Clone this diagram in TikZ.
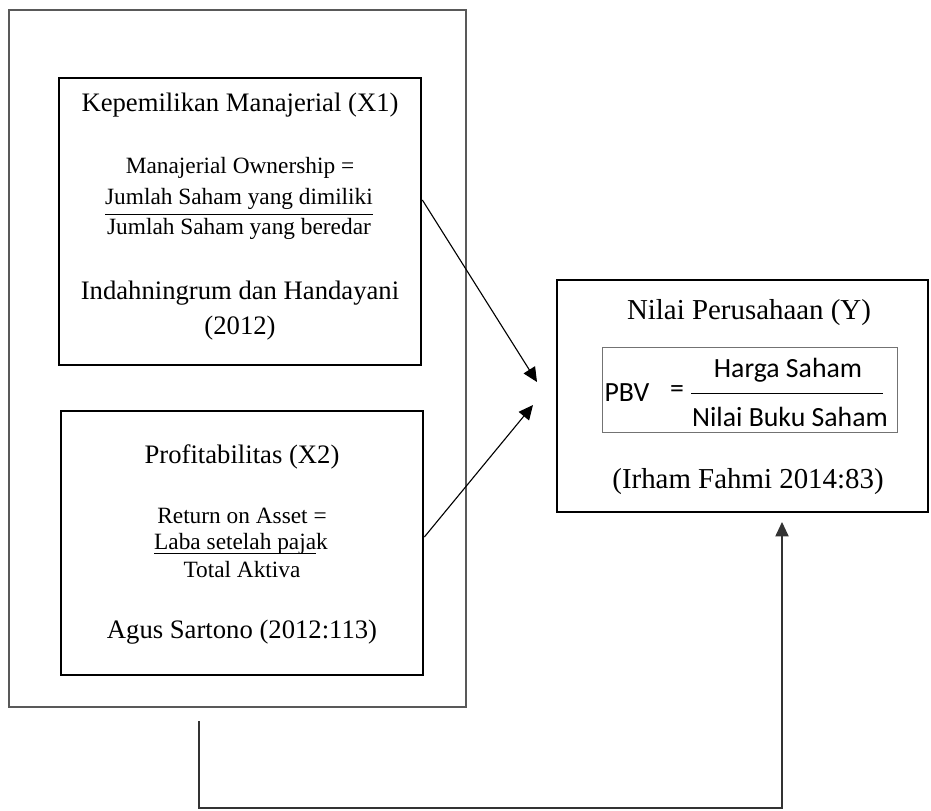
\documentclass[tikz,border=0pt]{standalone}
\usepackage{fontspec}
\setmainfont{Liberation Serif}
\newfontfamily\calfont{Carlito}
\usetikzlibrary{arrows.meta}

\begin{document}
\begin{tikzpicture}[x=0.45pt,y=-0.45pt,line width=0.5pt,>={Triangle[length=6.5pt,width=6pt]},
  box/.style={draw,line width=1.2pt,inner sep=0pt},
  big/.style={font=\fontsize{12}{14}\selectfont},
  small/.style={font=\fontsize{10.5}{13}\selectfont},
  ytxt/.style={font=\fontsize{13}{15}\selectfont},
  cal/.style={font=\calfont\fontsize{12.5}{15}\selectfont}]
  \useasboundingbox (0,0) rectangle (931,810);
  % kotak luar
  \node[draw=black!65,line width=0.7pt,inner sep=0pt,minimum width=205.65pt,minimum height=313.65pt] (outer) at (237.5,358.5) {};
  % X1
  \node[box,minimum width=162.9pt,minimum height=129.15pt] (x1) at (240,221.5) {};
  \node[big] (x1title) at (240,105) {Kepemilikan Manajerial (X1)};
  \node[small] (x1rumus) at (240,168) {Manajerial Ownership =};
  \node[small,inner sep=0pt] (x1frac) at (239,214) {\begin{tabular}{@{}c@{}}Jumlah Saham yang dimiliki\\\hline Jumlah Saham yang beredar\end{tabular}};
  \node[big] (x1src) at (240,293) {Indahningrum dan Handayani};
  \node[big] (x1year) at (240,328) {(2012)};
  % X2
  \node[box,minimum width=162.9pt,minimum height=118.8pt] (x2) at (242,543) {};
  \node[big] (x2title) at (242,457) {Profitabilitas (X2)};
  \node[small] (x2rumus) at (242,516) {Return on Asset =};
  \node[small] (x2num) at (241,544) {\underline{\smash{Laba setelah paja}}k};
  \node[small] (x2den) at (242,570) {Total Aktiva};
  \node[big] (x2src) at (242,632) {Agus Sartono (2012:113)};
  % Y
  \node[box,minimum width=166.95pt,minimum height=104.4pt] (y) at (742.5,396) {};
  \node[ytxt] (ytitle) at (749,313) {Nilai Perusahaan (Y)};
  \node[draw=black!55,line width=0.45pt,inner sep=0pt,minimum width=132.75pt,minimum height=38.25pt] (pbv) at (749.5,389.5) {};
  \node[cal] (pbvlbl) at (627,393) {PBV};
  \node[cal] (pbveq) at (677,392) {=};
  \node[cal] (pbvnum) at (788,370) {Harga Saham};
  \node[cal] (pbvden) at (790,417) {Nilai Buku Saham};
  \draw[line width=0.45pt] (691,393) -- (883,393);
  \node[ytxt] (ysrc) at (748,482) {(Irham Fahmi 2014:83)};
  % panah
  \coordinate (t1) at (537,382);
  \coordinate (t2) at (533,405);
  \coordinate (fb) at (199,721);
  \coordinate (t3) at (782,522);
  \draw[->] ([yshift=9.7pt]x1.east) -- (t1);
  \draw[->] ([yshift=2.7pt]x2.east) -- (t2);
  \draw[->,black!80] (fb) -- ++(0,87) -| (t3);
\end{tikzpicture}
\end{document}
